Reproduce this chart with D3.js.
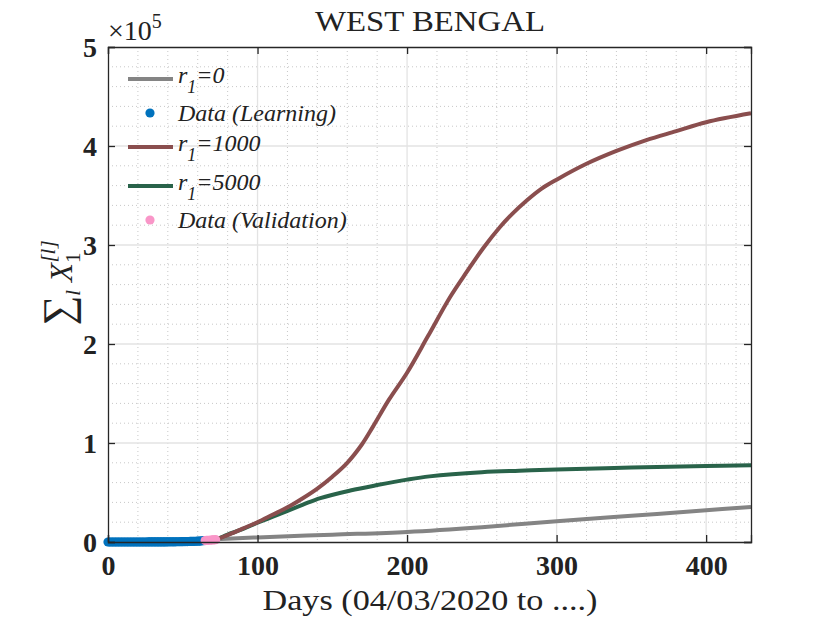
<!DOCTYPE html>
<html>
<head>
<meta charset="utf-8">
<script src="https://cdn.jsdelivr.net/npm/d3@7"></script>
<style>
  body { margin: 0; background: #fff; }
  text { font-family: "Liberation Serif", "DejaVu Serif", serif; fill: #222; }
</style>
</head>
<body>
<div id="chart"></div>
<script>
// learning data (days 0..64) and validation data (days 65..72)
var learnValues = [0,0,0,0,0,0,0,0,0,0,0,0,0,1,1,2,3,4,5,7,7,9,10,15,18,19,22,26,27,34,
  37,53,63,69,69,80,91,103,116,126,132,144,152,162,190,213,231,255,274,287,
  339,392,423,456,514,572,611,649,697,758,795,922,963,1259,1344];
var validValues = [1456,1548,1678,1786,1939,2063,2173,2377];

// model curves
var r0Days   = [65, 72, 100, 150, 200, 250, 300, 350, 400, 430];
var r0Values = [2300, 2700, 4600, 7400, 10200, 15000, 21000, 26500, 32000, 35400];

var r1000Days   = [65, 72, 80, 90, 100, 110, 120, 130, 140, 150, 160, 170, 177, 188, 200, 214, 229, 240, 251, 262, 270, 280, 290, 300, 320, 340, 360, 380, 400, 430];
var r1000Values = [2300, 2700, 7000, 13500, 20000, 27500, 35000, 44000, 54000, 66000, 80000, 99000, 116000, 144000, 171000, 208000, 248000, 273000, 297000, 318000, 331000, 345000, 357000, 366000, 382000, 395000, 406000, 415000, 424000, 433000];

var r5000Days   = [65, 72, 80, 90, 100, 115, 130, 142, 162, 180, 200, 215, 250, 275, 300, 350, 400, 430];
var r5000Values = [2300, 2700, 7500, 13000, 19500, 28500, 37500, 44400, 52000, 57500, 63000, 66300, 70500, 72000, 73200, 75200, 76800, 77400];

var xTicks = [0, 100, 200, 300, 400];
var yTicks = [0, 1, 2, 3, 4, 5];

var margin = {top: 47, left: 108, right: 79, bottom: 81},
    width = 830 - margin.left - margin.right,
    height = 623 - margin.top - margin.bottom;

var svg = d3.select("#chart")
  .append("svg")
    .attr("width", 830)
    .attr("height", 623);

var g = svg.append("g")
    .attr("transform", "translate(" + margin.left + "," + margin.top + ")");

var x = d3.scaleLinear().domain([0, 430]).range([0, width]);
var y = d3.scaleLinear().domain([0, 5e5]).range([height, 0]);

// minor grid (dotted)
g.append("g").selectAll("line.mx")
  .data(d3.range(20, 430, 20).filter(function (d) { return d % 100 != 0; }))
  .enter().append("line")
    .attr("x1", function (d) { return x(d); }).attr("x2", function (d) { return x(d); })
    .attr("y1", 0).attr("y2", height)
    .attr("stroke", "#c8c8c8").attr("stroke-width", 1).attr("stroke-dasharray", "1,3");
g.append("g").selectAll("line.my")
  .data(d3.range(0.2e5, 5e5, 0.2e5).filter(function (d) { return Math.round(d) % 100000 != 0; }))
  .enter().append("line")
    .attr("y1", function (d) { return y(d); }).attr("y2", function (d) { return y(d); })
    .attr("x1", 0).attr("x2", width)
    .attr("stroke", "#c8c8c8").attr("stroke-width", 1).attr("stroke-dasharray", "1,3");

// major grid
g.append("g").selectAll("line")
  .data(xTicks.slice(1))
  .enter().append("line")
    .attr("x1", function (d) { return x(d); }).attr("x2", function (d) { return x(d); })
    .attr("y1", 0).attr("y2", height)
    .attr("stroke", "#e3e3e3").attr("stroke-width", 1.3);
g.append("g").selectAll("line")
  .data(yTicks.slice(1, 5))
  .enter().append("line")
    .attr("y1", function (d) { return y(d * 1e5); }).attr("y2", function (d) { return y(d * 1e5); })
    .attr("x1", 0).attr("x2", width)
    .attr("stroke", "#e3e3e3").attr("stroke-width", 1.3);

// lines
var line = d3.line()
  .x(function (d) { return x(d[0]); })
  .y(function (d) { return y(d[1]); })
  .curve(d3.curveCatmullRom.alpha(0.5));

function addCurve(days, vals, color) {
  g.append("path")
    .datum(d3.zip(days, vals))
    .attr("d", line)
    .attr("fill", "none")
    .attr("stroke", color)
    .attr("stroke-width", 4);
}
addCurve(r0Days, r0Values, "#848484");
addCurve(r5000Days, r5000Values, "#29634a");
addCurve(r1000Days, r1000Values, "#8a4e4e");

// data points
g.append("g").selectAll("circle")
  .data(learnValues)
  .enter().append("circle")
    .attr("cx", function (d, i) { return x(i); })
    .attr("cy", function (d) { return y(d); })
    .attr("r", 4.6)
    .attr("fill", "#0072bd");
g.append("g").selectAll("circle")
  .data(validValues)
  .enter().append("circle")
    .attr("cx", function (d, i) { return x(65 + i); })
    .attr("cy", function (d) { return y(d); })
    .attr("r", 4.6)
    .attr("fill", "#f996c8");

// axes box with inward ticks
var xAxis = g.append("g")
  .attr("transform", "translate(0," + height + ")")
  .call(d3.axisBottom(x).tickValues(xTicks).tickSize(-7).tickPadding(13));
var yAxis = g.append("g")
  .call(d3.axisLeft(y).tickValues(yTicks.map(function (d) { return d * 1e5; }))
    .tickFormat(function (d) { return d / 1e5; }).tickSize(-7).tickPadding(11));
g.append("g")
  .call(d3.axisTop(x).tickValues(xTicks).tickSize(-7).tickFormat(""));
g.append("g")
  .attr("transform", "translate(" + width + ",0)")
  .call(d3.axisRight(y).tickValues(yTicks.map(function (d) { return d * 1e5; })).tickSize(-7).tickFormat(""));

svg.selectAll(".domain").attr("stroke", "#262626").attr("stroke-width", 1.3);
svg.selectAll(".tick line").attr("stroke", "#262626").attr("stroke-width", 1.3);
svg.selectAll(".tick text")
  .style("font-family", "'Liberation Serif', serif")
  .style("font-weight", "bold")
  .style("font-size", "28px")
  .attr("fill", "#222");
yAxis.selectAll(".tick text").attr("dy", "0.35em");

// exponent
var ex = svg.append("text")
  .attr("x", margin.left)
  .attr("y", 40)
  .style("font-size", "28px");
ex.append("tspan").text("\u00d710");
ex.append("tspan").attr("dy", -12).style("font-size", "20px").text("5");

// title
svg.append("text")
  .attr("x", 430).attr("y", 31)
  .attr("text-anchor", "middle")
  .attr("textLength", 230)
  .attr("lengthAdjust", "spacingAndGlyphs")
  .style("font-size", "29px")
  .text("WEST BENGAL");

// x label
svg.append("text")
  .attr("x", 430).attr("y", 610)
  .attr("text-anchor", "middle")
  .attr("textLength", 335)
  .attr("lengthAdjust", "spacingAndGlyphs")
  .style("font-size", "30px")
  .text("Days (04/03/2020 to ....)");

// y label
var yl = svg.append("text")
  .attr("transform", "translate(72," + 283 + ") rotate(-90)")
  .attr("text-anchor", "middle")
  .style("font-size", "31px");
yl.append("tspan").style("font-size", "42px").text("\u2211");
yl.append("tspan").attr("dy", 8).style("font-style", "italic").style("font-size", "21px").text("l");
yl.append("tspan").attr("dy", -8).style("font-style", "italic").text(" X");
yl.append("tspan").attr("dy", 8).style("font-size", "21px").text("1");
yl.append("tspan").attr("dx", -10).attr("dy", -25).style("font-style", "italic").style("font-size", "21px").text("[l]");

// legend
var legendItems = [
  {label: "0", sub: true, type: "line", color: "#848484", y: 79},
  {label: "Data (Learning)", sub: false, type: "dot", color: "#0072bd", y: 113},
  {label: "1000", sub: true, type: "line", color: "#8a4e4e", y: 147},
  {label: "5000", sub: true, type: "line", color: "#29634a", y: 186},
  {label: "Data (Validation)", sub: false, type: "dot", color: "#f996c8", y: 220}
];
var leg = svg.append("g");
legendItems.forEach(function (d) {
  if (d.type == "line") {
    leg.append("line")
      .attr("x1", 128).attr("x2", 173)
      .attr("y1", d.y).attr("y2", d.y)
      .attr("stroke", d.color).attr("stroke-width", 4);
  } else {
    leg.append("circle")
      .attr("cx", 150).attr("cy", d.y).attr("r", 4.6)
      .attr("fill", d.color);
  }
  var t = leg.append("text")
    .attr("x", 178).attr("y", d.y + (d.sub ? 4 : 8))
    .style("font-size", "24px")
    .style("font-style", "italic");
  if (d.sub) {
    t.append("tspan").text("r");
    t.append("tspan").attr("dy", 10).style("font-size", "18px").text("1");
    t.append("tspan").attr("dy", -10).text("=" + d.label);
  } else {
    t.text(d.label);
  }
});
</script>
</body>
</html>
